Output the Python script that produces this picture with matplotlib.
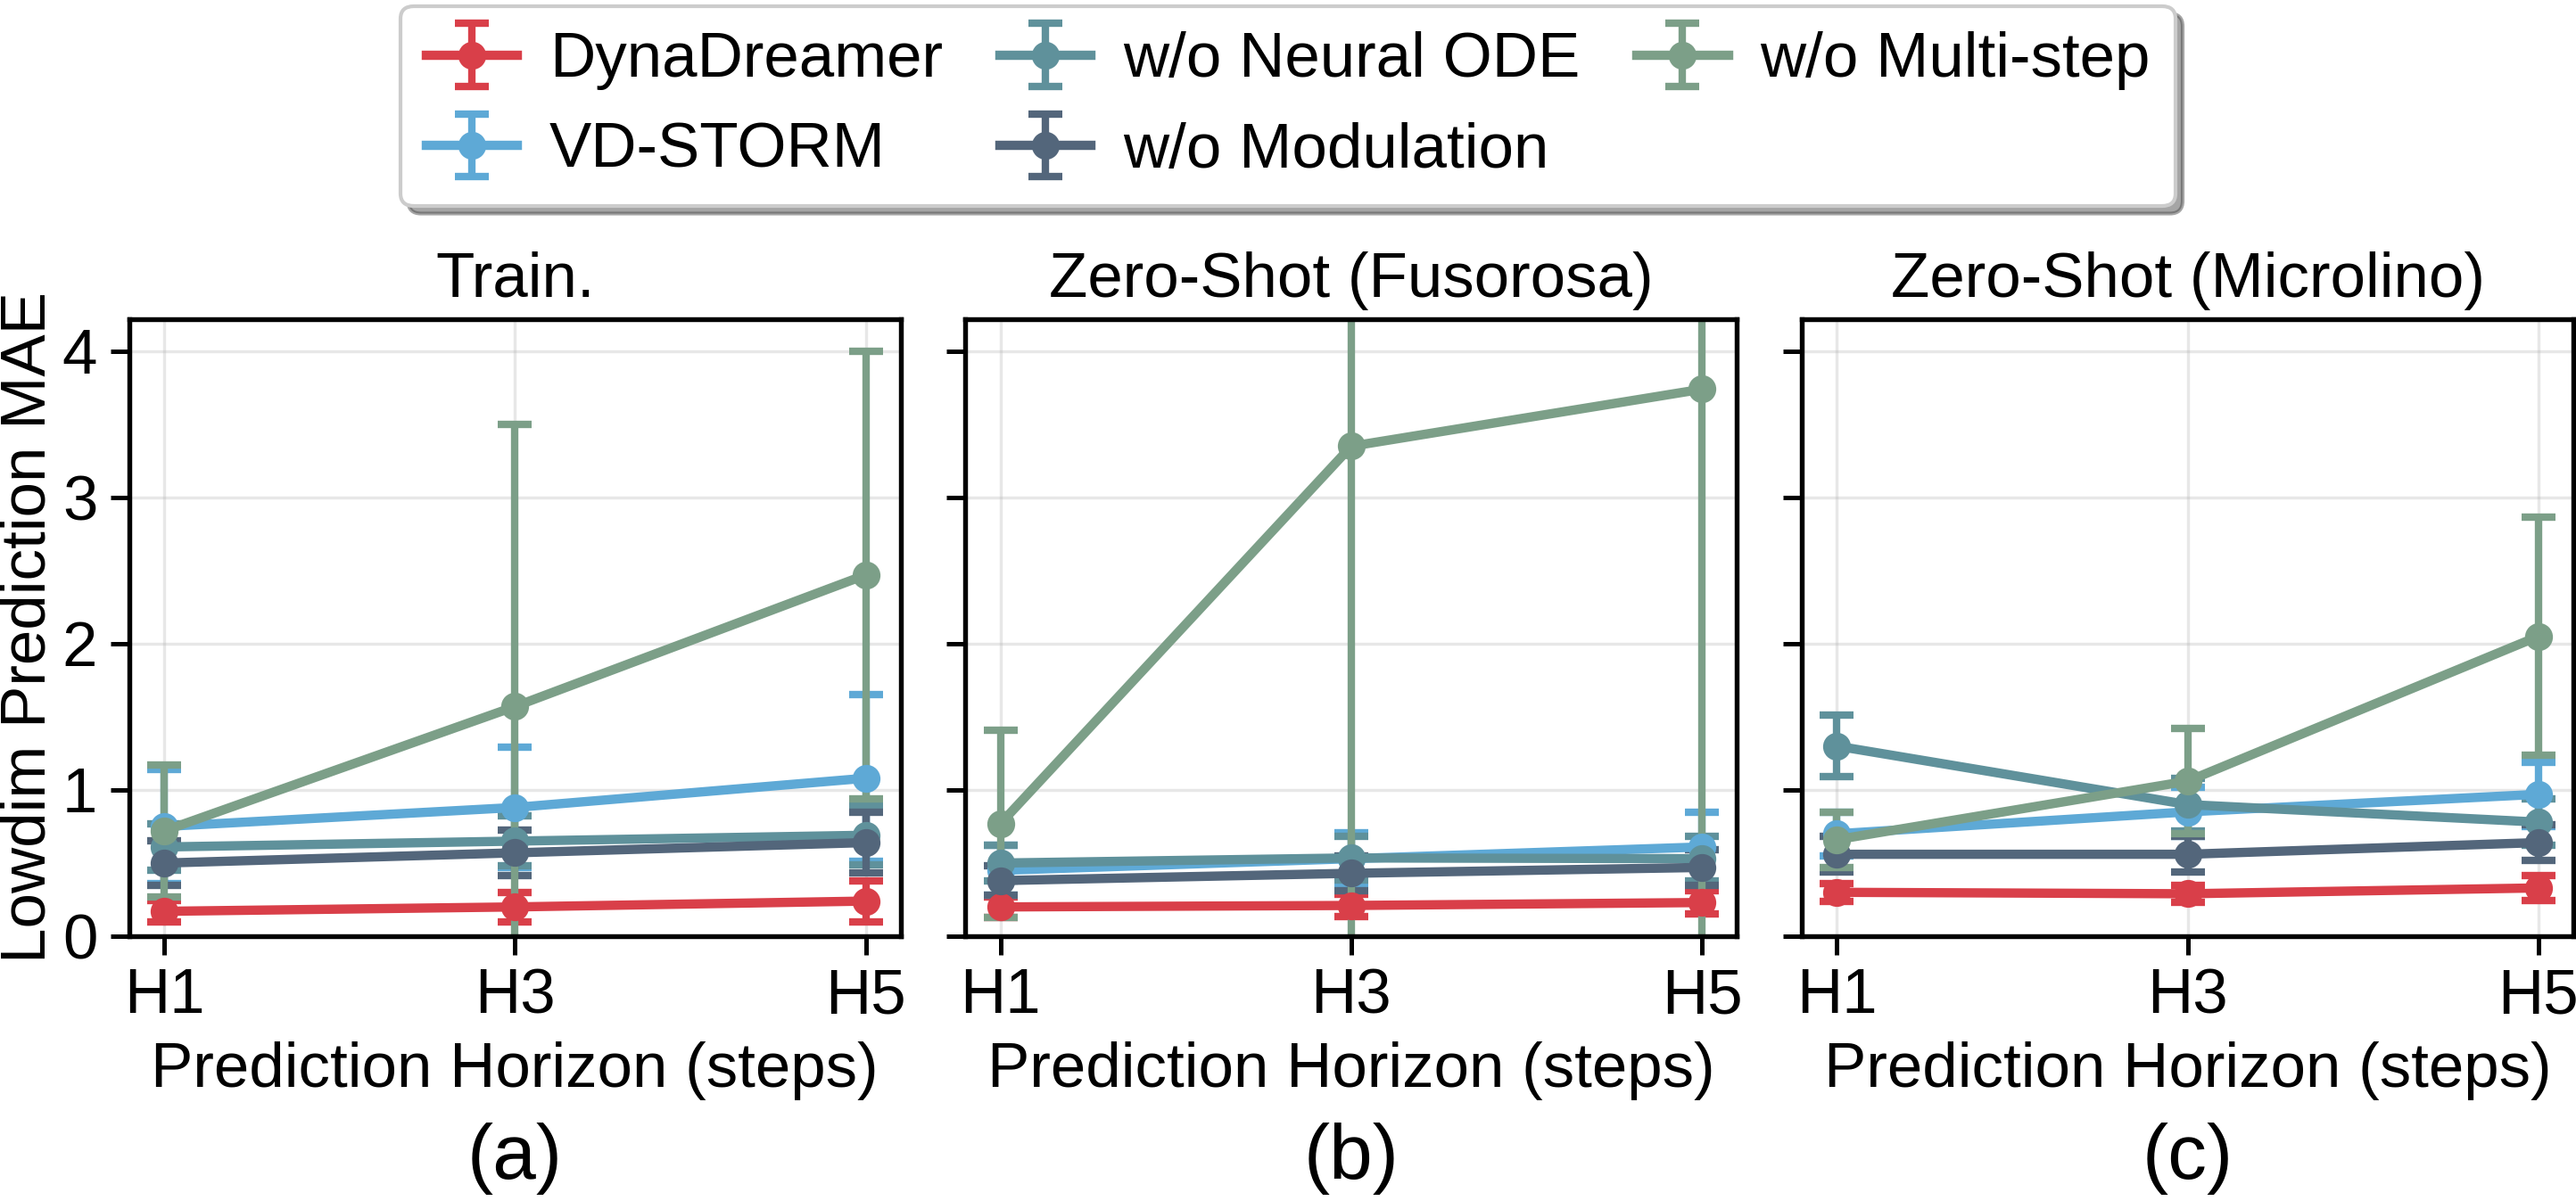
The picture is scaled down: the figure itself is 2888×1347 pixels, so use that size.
import numpy as np
import matplotlib
matplotlib.use("Agg")
import matplotlib.pyplot as plt

plt.rcParams['font.family'] = ['Liberation Sans', 'DejaVu Sans']
plt.rcParams['font.size'] = 17

# Data
horizons = ["H1", "H3", "H5"]
x = [1, 3, 5]
methods = ["DynaDreamer", "VD-STORM", "w/o Neural ODE", "w/o Modulation", "w/o Multi-step"]
colors = ["#D93F49", "#5EA9D6", "#5F919B", "#53667B", "#7C9F88"]
titles = ["Train.", "Zero-Shot (Fusorosa)", "Zero-Shot (Microlino)"]
sublabels = ["(a)", "(b)", "(c)"]

# panel (a) Train.
train_mean = [
    [0.17, 0.20, 0.24],
    [0.75, 0.88, 1.08],
    [0.61, 0.65, 0.69],
    [0.50, 0.57, 0.64],
    [0.72, 1.57, 2.47],
]
train_std = [
    [0.075, 0.10, 0.14],
    [0.39, 0.41, 0.57],
    [0.16, 0.17, 0.20],
    [0.155, 0.155, 0.21],
    [0.45, 1.93, 1.53],
]
# panel (b) Fusorosa
fus_mean = [
    [0.20, 0.21, 0.23],
    [0.45, 0.53, 0.61],
    [0.50, 0.535, 0.53],
    [0.38, 0.43, 0.47],
    [0.77, 3.35, 3.74],
]
fus_std = [
    [0.07, 0.075, 0.08],
    [0.17, 0.18, 0.24],
    [0.12, 0.15, 0.15],
    [0.10, 0.12, 0.12],
    [0.64, 3.6, 3.9],
]
# panel (c) Microlino
mic_mean = [
    [0.30, 0.29, 0.33],
    [0.70, 0.85, 0.97],
    [1.30, 0.90, 0.78],
    [0.56, 0.56, 0.64],
    [0.66, 1.06, 2.05],
]
mic_std = [
    [0.06, 0.06, 0.085],
    [0.15, 0.17, 0.22],
    [0.21, 0.18, 0.16],
    [0.12, 0.12, 0.12],
    [0.19, 0.36, 0.815],
]

means = [train_mean, fus_mean, mic_mean]
stds = [train_std, fus_std, mic_std]

fig, axes = plt.subplots(1, 3, figsize=(2888 / 300, 1347 / 300), dpi=300, sharey=True)
fig.subplots_adjust(left=0.0501, right=0.999, bottom=0.2205, top=0.7344, wspace=0.0838)

for i, ax in enumerate(axes):
    for j, m in enumerate(methods):
        ax.errorbar(x, means[i][j], yerr=stds[i][j], color=colors[j], label=m,
                    marker='o', markersize=6.5, linewidth=2.5, elinewidth=2,
                    capsize=4.5, capthick=2)
    ax.set_title(titles[i], fontsize=17)
    ax.set_xticks(x)
    ax.set_xticklabels(horizons)
    ax.set_xlabel("Prediction Horizon (steps)", fontsize=17)
    ax.grid(True, alpha=0.3)
    for s in ax.spines.values():
        s.set_linewidth(1.3)
    ax.tick_params(width=1.2, length=5)
    ax_center = (ax.get_position().x0 + ax.get_position().x1) / 2
    fig.text(ax_center, 0.035, sublabels[i], ha='center', va='center', fontsize=21)

axes[0].set_ylim(0, 4.22)
axes[0].set_yticks([0, 1, 2, 3, 4])
axes[0].set_ylabel("Lowdim Prediction MAE", fontsize=17, labelpad=1)

handles, labels = axes[0].get_legend_handles_labels()
leg = fig.legend(handles, labels, loc='upper center', bbox_to_anchor=(0.5, 1.0), ncol=3,
                 shadow=True, fontsize=17, columnspacing=0.9, handletextpad=0.5,
                 handlelength=1.45, borderaxespad=0.1)
leg.get_frame().set_edgecolor('#cccccc')

fig.savefig("out.png", dpi=300)
